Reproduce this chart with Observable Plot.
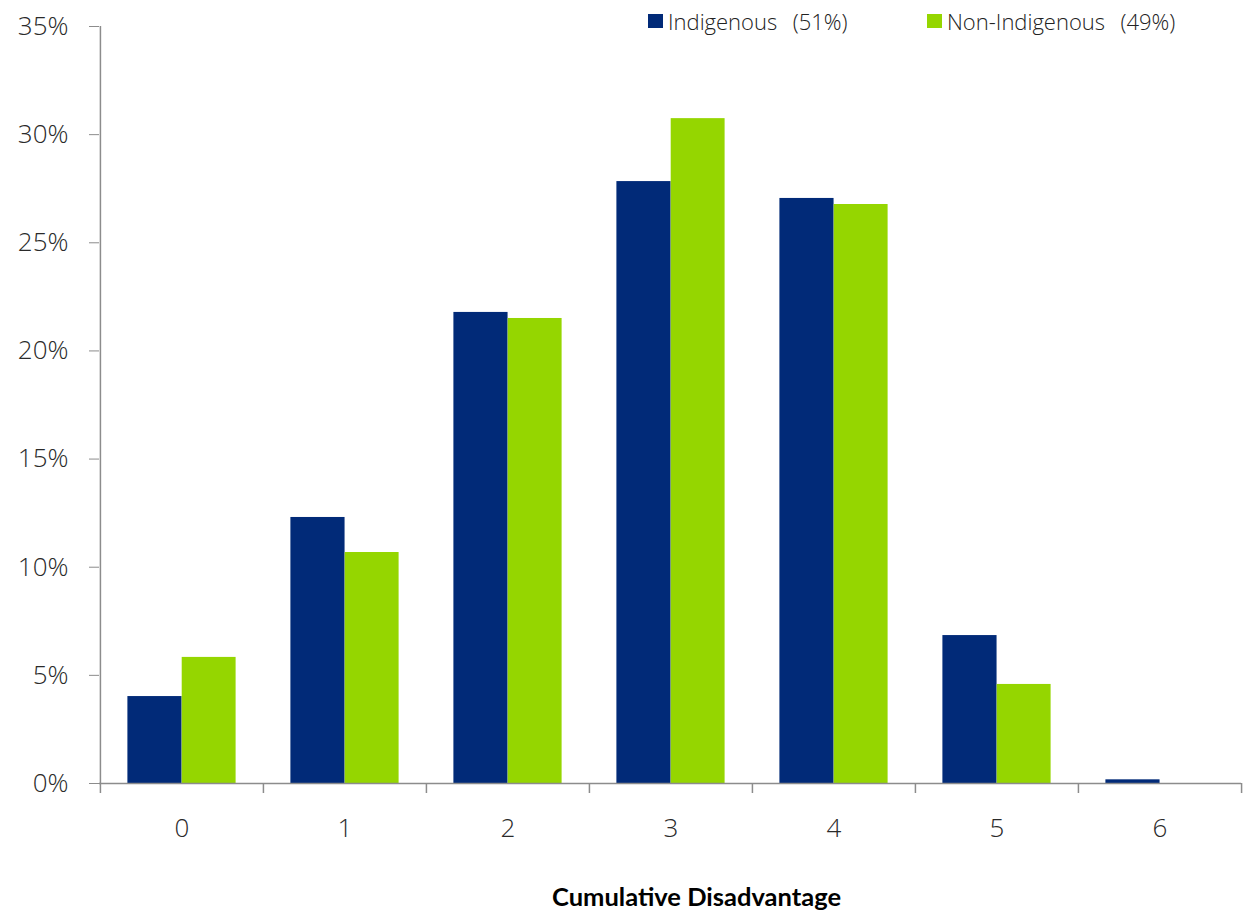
<!DOCTYPE html>
<html>
<head>
<meta charset="utf-8">
<script src="https://cdn.jsdelivr.net/npm/d3@7"></script>
<script src="https://cdn.jsdelivr.net/npm/@observablehq/plot@0.6"></script>
<style>
  html, body { margin: 0; padding: 0; background: #fff; }
  #wrap { position: relative; width: 1246px; height: 910px; font-family: "Open Sans", "Noto Sans", sans-serif; }
  #legend { position: absolute; top: 6px; left: 0; height: 30px; font-size: 22px; color: #222; font-weight: 300; }
  .item { position: absolute; white-space: pre; display: flex; align-items: center; word-spacing: 2px; }
  .sw { width: 15px; height: 14px; margin-right: 5px; display: inline-block; }
  svg g[aria-label="y-axis tick"] path, svg g[aria-label="x-axis tick"] path { stroke: #8c8c8c; }
</style>
</head>
<body>
<div id="wrap"></div>
<script>
const categories = ["0", "1", "2", "3", "4", "5", "6"];
const series = ["Indigenous", "Non-Indigenous"];
const legendLabels = ["Indigenous  (51%)", "Non-Indigenous  (49%)"];
const indigenous = [4.02, 12.3, 21.78, 27.83, 27.05, 6.84, 0.17];
const nonIndigenous = [5.83, 10.68, 21.5, 30.74, 26.77, 4.58, 0];
const yTicks = [0, 5, 10, 15, 20, 25, 30, 35];
const colors = ["#012a78", "#95d600"];
const xTitle = "Cumulative Disadvantage";

const W = 1246, H = 910;
const mL = 99, mR = 5, mT = 26, mB = 127;
const step = (W - mL - mR) / categories.length;

const rows = [];
categories.forEach((c, i) => {
  rows.push({cat: c, series: series[0], value: indigenous[i]});
  rows.push({cat: c, series: series[1], value: nonIndigenous[i]});
});

const chart = Plot.plot({
  width: W, height: H,
  marginLeft: mL, marginRight: mR, marginTop: mT, marginBottom: mB,
  style: {fontFamily: '"Open Sans", "Noto Sans", sans-serif', fontSize: "26px", color: "#2a2a2a", fontWeight: 300, background: "#fff"},
  x: {domain: categories, padding: 0, tickSize: 0, tickPadding: 35, label: null},
  y: {domain: [0, 35], ticks: yTicks, tickSize: 10, tickPadding: 21, tickFormat: d => d + "%", label: null},
  color: {domain: series, range: colors},
  marks: [
    Plot.barY(rows.filter(d => d.series === series[0]), {x: "cat", y: "value", fill: "series", insetLeft: 27.4, insetRight: step - 27.4 - 54.3}),
    Plot.barY(rows.filter(d => d.series === series[1]), {x: "cat", y: "value", fill: "series", insetLeft: 27.4 + 54.3, insetRight: 27.4}),
    Plot.ruleY([0], {stroke: "#8c8c8c", strokeWidth: 1.5}),
    Plot.ruleX([categories[0]], {dx: -step / 2, y1: 0, y2: 35, stroke: "#8c8c8c", strokeWidth: 1.5}),
    Plot.ruleX(categories, {dx: -step / 2, y1: 0, y2: 0, insetBottom: -10, stroke: "#8c8c8c", strokeWidth: 1.5}),
    Plot.ruleX([categories[categories.length - 1]], {dx: step / 2, y1: 0, y2: 0, insetBottom: -10, stroke: "#8c8c8c", strokeWidth: 1.5}),
    Plot.text([xTitle], {frameAnchor: "bottom", dx: 26, dy: 122, fontSize: 25.5, fontWeight: "bold", fill: "#000", fontFamily: '"Lato", "Open Sans", sans-serif'})
  ]
});

const wrap = document.getElementById("wrap");
wrap.appendChild(chart);

const legend = document.createElement("div");
legend.id = "legend";
const lefts = [648, 927];
series.forEach((s, i) => {
  const it = document.createElement("div");
  it.className = "item";
  it.style.left = lefts[i] + "px";
  const sw = document.createElement("span");
  sw.className = "sw";
  sw.style.background = colors[i];
  const tx = document.createElement("span");
  tx.textContent = legendLabels[i];
  it.appendChild(sw); it.appendChild(tx);
  legend.appendChild(it);
});
wrap.appendChild(legend);
</script>
</body>
</html>
